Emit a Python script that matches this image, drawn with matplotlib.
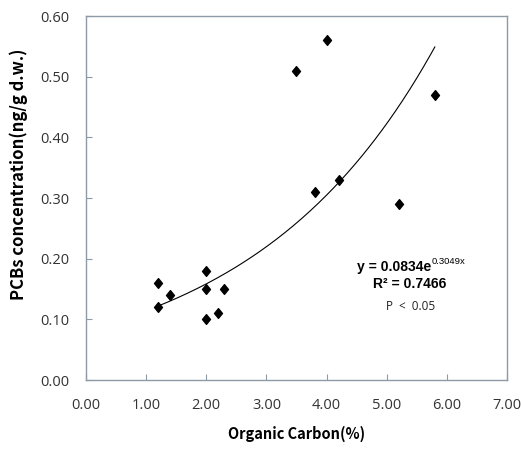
import numpy as np
import matplotlib as mpl

mpl.use("Agg")
import matplotlib.pyplot as plt
from matplotlib.path import Path

# measured points
organic_carbon = [1.2, 1.2, 1.4, 2.0, 2.0, 2.0, 2.2, 2.3, 3.5, 3.8, 4.0, 4.2, 5.2, 5.8]
pcbs = [0.16, 0.12, 0.14, 0.18, 0.15, 0.10, 0.11, 0.15, 0.51, 0.31, 0.56, 0.33, 0.29, 0.47]

# exponential trendline as drawn (runs from first to last x)
trend_a = 0.0824
trend_b = 0.327

x_ticks = [0, 1, 2, 3, 4, 5, 6, 7]
y_ticks = [0.0, 0.1, 0.2, 0.3, 0.4, 0.5, 0.6]

frame_color = "#8e9aa6"
label_color = "#333333"
narrow = ["Liberation Sans Narrow", "Liberation Sans"]

# slightly tall diamond like the spreadsheet marker
diamond = Path([(0, 1), (0.82, 0), (0, -1), (-0.82, 0), (0, 1)],
               [Path.MOVETO, Path.LINETO, Path.LINETO, Path.LINETO, Path.CLOSEPOLY])

fig = plt.figure(figsize=(5.23, 4.51), dpi=100)
ax = fig.add_axes([0.1644, 0.1574, 0.805, 0.807])

xs = np.linspace(min(organic_carbon), max(organic_carbon), 200)
ax.plot(xs, trend_a * np.exp(trend_b * xs), color="black", linewidth=0.8)
ax.plot(organic_carbon, pcbs, linestyle="none", marker=diamond, markersize=7,
        color="black", markeredgecolor="black")

ax.set_xlim(0, 7)
ax.set_ylim(0, 0.6)
ax.set_xticks(x_ticks)
ax.set_yticks(y_ticks)
ax.set_xticklabels([f"{v:.2f}" for v in x_ticks], family="Open Sans")
ax.set_yticklabels([f"{v:.2f}" for v in y_ticks], family="Open Sans")
ax.tick_params(direction="in", length=4, color=frame_color, labelsize=10.5,
               labelcolor=label_color)
ax.tick_params(axis="x", pad=13)
ax.tick_params(axis="y", pad=12)
for spine in ax.spines.values():
    spine.set_color(frame_color)
    spine.set_linewidth(1.0)

ax.set_xlabel("Organic Carbon(%)", family="Noto Sans CJK KR", fontweight="bold",
              fontsize=10.5, color="black")
ax.xaxis.set_label_coords(0.5, -0.125)
ax.set_ylabel("PCBs concentration(ng/g d.w.)", family="Noto Sans CJK KR", fontweight="bold",
              fontsize=12, color="black")
ax.yaxis.set_label_coords(-0.138, 0.566)

eq = ax.text(4.51, 0.186, "y = 0.0834e", family=narrow, fontweight="bold",
             fontsize=10, ha="left", va="center")
ax.annotate("0.3049x", xy=(1.0, 0.6), xycoords=eq, family=narrow,
            fontsize=6.8, ha="left", va="bottom")
ax.text(5.39, 0.158, "R² = 0.7466", family=narrow, fontweight="bold",
        fontsize=10, ha="center", va="center")
ax.text(5.39, 0.122, "P  <  0.05", family="Open Sans", fontsize=8.5,
        ha="center", va="center", color="#222222")

fig.savefig("out.png", dpi=100)
